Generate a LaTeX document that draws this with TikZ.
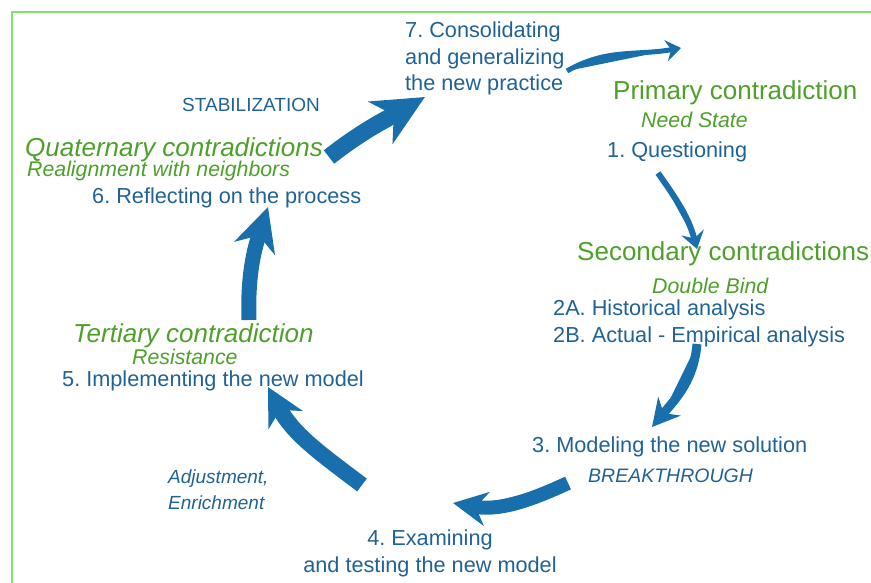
\documentclass[tikz,border=0pt]{standalone}
\usepackage{fontspec}
\setmainfont{Liberation Sans}
\usetikzlibrary{arrows.meta}
\frenchspacing

\definecolor{stageblue}{RGB}{32,98,150}
\definecolor{arrowblue}{RGB}{25,110,172}
\definecolor{contragreen}{RGB}{78,160,42}
\definecolor{framegreen}{RGB}{125,228,112}

\tikzset{
  stage/.style={text=stageblue, inner sep=0pt, anchor=base west, font=\fontsize{21.7}{26.5}\selectfont},
  phase/.style={text=stageblue, inner sep=0pt, anchor=base west, font=\fontsize{19}{26}\selectfont},
  contra/.style={text=contragreen, inner sep=0pt, anchor=base west, font=\fontsize{26}{30}\selectfont},
  contrait/.style={contra, font=\itshape\fontsize{26}{30}\selectfont},
  needstate/.style={text=contragreen, inner sep=0pt, anchor=base west, font=\itshape\fontsize{21.3}{24}\selectfont},
  turn/.style={draw=arrowblue, fill=arrowblue},
}

\begin{document}
\begin{tikzpicture}[x=1pt, y=1pt]
    \useasboundingbox (0,-583) rectangle (871,0);

    % frame
    \draw[framegreen, line width=2.5pt] (12,-583) -- (12,-12) -- (871,-12);

    % stages
    \node[stage, anchor=north west, align=left] (s7) at (405,-22) {7. Consolidating\\and generalizing\\the new practice};
    \node[stage] (s1) at (607,-158) {1. Questioning};
    \node[stage] (s2a) at (553,-315) {2A. Historical analysis};
    \node[stage] (s2b) at (553,-342) {2B. Actual - Empirical analysis};
    \node[stage] (s3) at (532,-452) {3. Modeling the new solution};
    \node[stage, anchor=north, align=center] (s4) at (430,-530) {4. Examining\\and testing the new model};
    \node[stage] (s5) at (62,-386) {5. Implementing the new model};
    \node[stage] (s6) at (92,-204) {6. Reflecting on the process};

    % contradictions
    \node[contra] (primary) at (613,-100) {Primary contradiction};
    \node[needstate] (need) at (641,-128) {Need State};
    \node[contra] (secondary) at (577,-260) {Secondary contradictions};
    \node[needstate] (bind) at (652,-293) {Double Bind};
    \node[contrait] (tertiary) at (73,-342) {Tertiary contradiction};
    \node[needstate] (resist) at (132,-364) {Resistance};
    \node[contrait] (quaternary) at (25,-157) {Quaternary contradictions};
    \node[needstate] (realign) at (27,-177) {Realignment with neighbors};

    % phases
    \node[phase] (stab) at (182,-112) {STABILIZATION};
    \node[phase, font=\itshape\fontsize{19.5}{26}\selectfont] (breakthrough) at (588,-482) {BREAKTHROUGH};
    \node[phase, font=\itshape\fontsize{19}{26}\selectfont, anchor=north west, align=left] (adjust) at (168,-469.5) {Adjustment,\\Enrichment};

    % arrow ends
    \coordinate (a1s) at (567,-71);   \coordinate (a1e) at (681,-48);
    \coordinate (a2s) at (658,-173);  \coordinate (a2e) at (697,-249);
    \coordinate (a3s) at (697,-344);  \coordinate (a3e) at (652,-427);
    \coordinate (a4s) at (568,-483);  \coordinate (a4e) at (453,-503);
    \coordinate (a5s) at (362,-485);  \coordinate (a5e) at (268,-387);
    \coordinate (a6s) at (249,-320);  \coordinate (a6e) at (268,-207);
    \coordinate (a7s) at (329,-157);  \coordinate (a7e) at (425,-97);

    % cycle arrows
    \draw[turn, line width=5pt, -{Stealth[length=15pt, width=21pt, inset=5pt]}] (a1s) to[out=30, in=190] (a1e);
    \draw[turn, line width=6pt, -{Stealth[length=17pt, width=23pt, inset=6pt]}] (a2s) to[out=-55, in=105] (a2e);
    \draw[turn, line width=9pt, -{Stealth[length=27pt, width=29pt, inset=9pt]}] (a3s) to[out=-95, in=50] (a3e);
    \draw[turn, line width=14pt, -{Stealth[length=34pt, width=34pt, inset=11pt]}] (a4s) to[out=205, in=-10] (a4e);
    \draw[turn, line width=16pt, -{Stealth[length=37pt, width=38pt, inset=11pt]}] (a5s) to[out=143, in=-62] (a5e);
    \draw[turn, line width=15pt, -{Stealth[length=43pt, width=42pt, inset=13pt]}] (a6s) to[out=92, in=-108] (a6e);
    \draw[turn, line width=17pt, -{Stealth[length=51pt, width=48pt, inset=15pt]}] (a7s) to[out=38, in=-150] (a7e);
\end{tikzpicture}
\end{document}
